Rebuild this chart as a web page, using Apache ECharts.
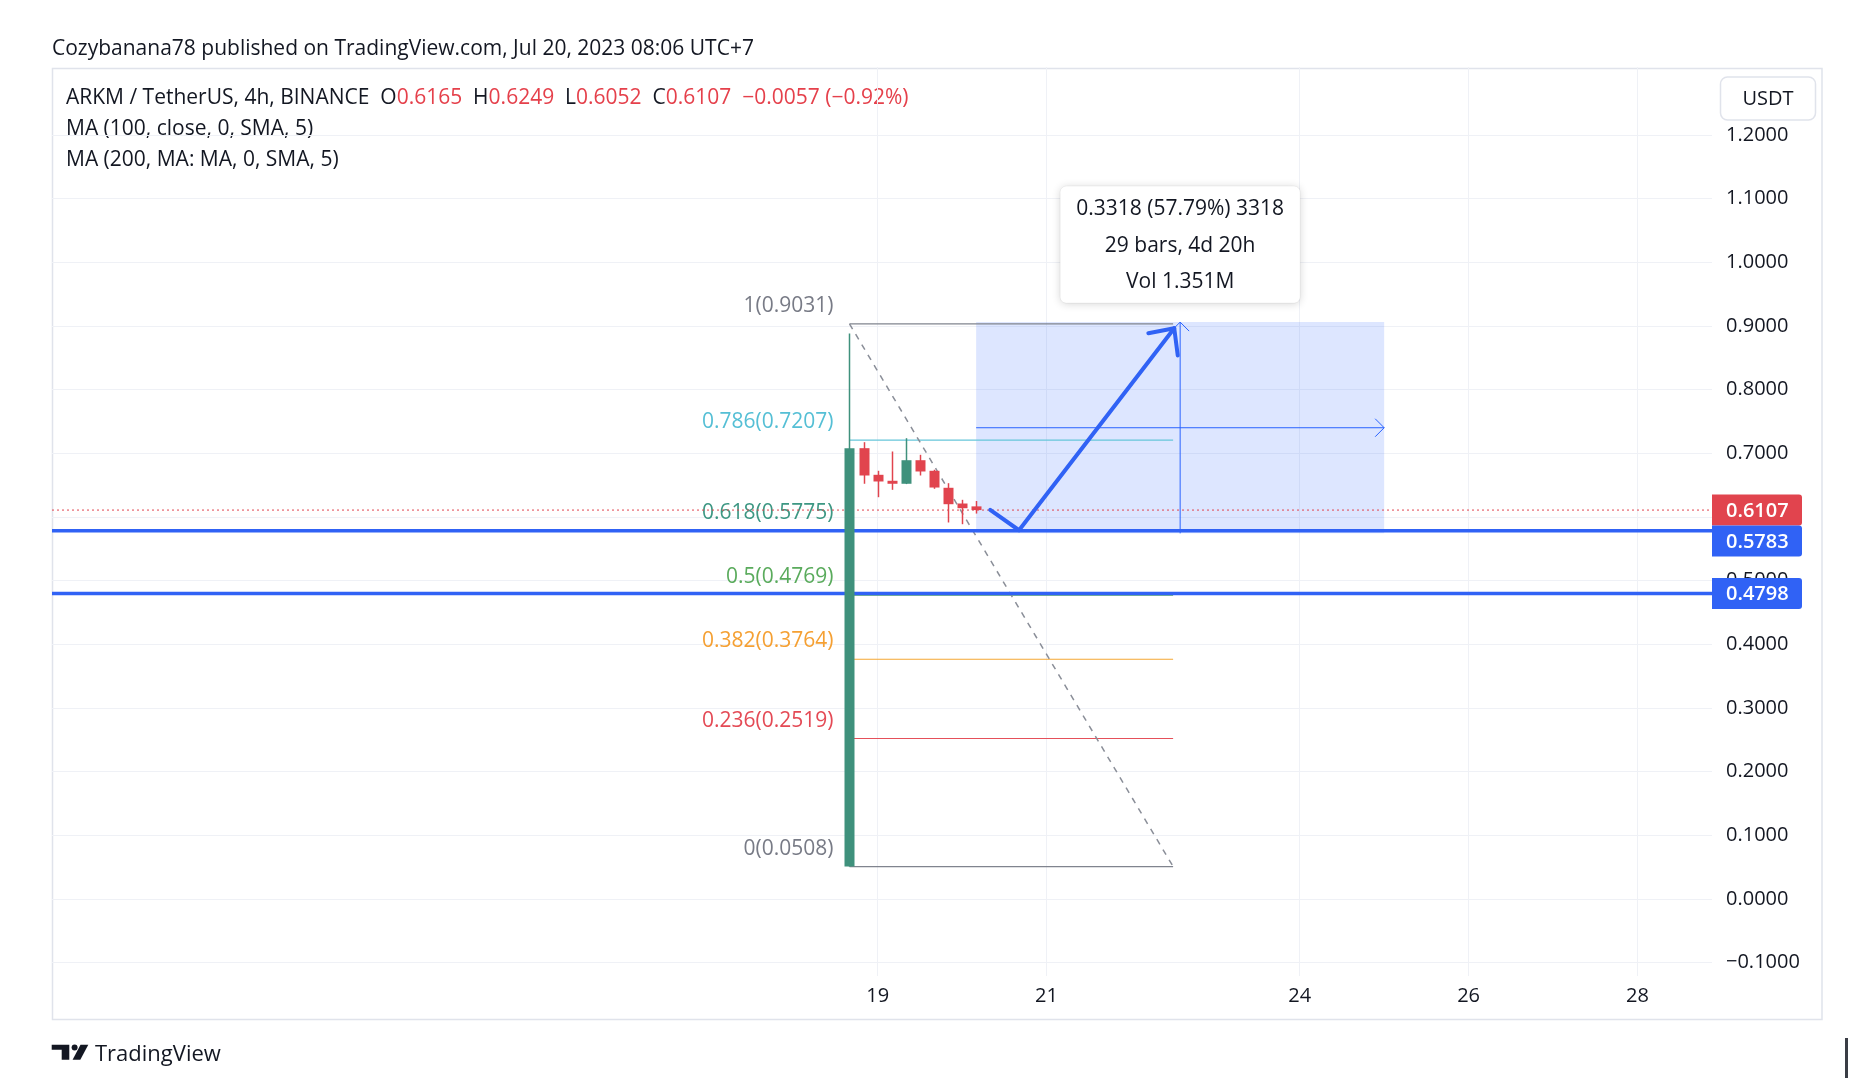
<!DOCTYPE html>
<html><head><meta charset="utf-8">
<script src="https://cdn.jsdelivr.net/npm/echarts@6/dist/echarts.min.js"></script>
<style>html,body{margin:0;padding:0;background:#fff}#main{width:1854px;height:1080px}</style>
</head><body><div id="main"></div>
<script>
// ---------------- data ----------------
const BAR_INDEX = [0, 1, 2, 3, 4, 5, 6, 7, 8, 9];
const OPEN  = [0.0508, 0.7079, 0.6661, 0.6567, 0.6520, 0.6890, 0.6724, 0.6457, 0.6210, 0.6165];
const HIGH  = [0.8880, 0.7173, 0.6724, 0.7027, 0.7236, 0.6975, 0.6740, 0.6529, 0.6268, 0.6249];
const LOW   = [0.0508, 0.6520, 0.6309, 0.6425, 0.6515, 0.6650, 0.6441, 0.5912, 0.5885, 0.6052];
const CLOSE = [0.7079, 0.6650, 0.6556, 0.6520, 0.6890, 0.6713, 0.6461, 0.6199, 0.6136, 0.6107];

const Y_TICKS = [-0.1, 0, 0.1, 0.2, 0.3, 0.4, 0.5, 0.6, 0.7, 0.8, 0.9, 1.0, 1.1, 1.2];
const DAY_TICKS = [2, 14, 32, 44, 56];
const DAY_LABELS = ['19', '21', '24', '26', '28'];

const FIB_RATIOS = ['1', '0.786', '0.618', '0.5', '0.382', '0.236', '0'];
const FIB_PRICES = [0.9031, 0.7207, 0.5775, 0.4769, 0.3764, 0.2519, 0.0508];
const FIB_BARS = [0, 23];

const H_LEVELS = [0.5783, 0.4798];
const LAST_PRICE = 0.6107;

const RANGE_BARS = [9, 38];
const RANGE_PRICES = [0.5741, 0.9059];
const RANGE_TEXT = ['0.3318 (57.79%) 3318', '29 bars, 4d 20h', 'Vol 1.351M'];

const PATH_BARS = [10.0, 12.05, 23.08];
const PATH_PRICES = [0.611, 0.579, 0.8963];
const ARROWHEAD_BARS = [21.24, 23.33];
const ARROWHEAD_PRICES = [0.8885, 0.8534];

const HEADER_TEXT = 'Cozybanana78 published on TradingView.com, Jul 20, 2023 08:06 UTC+7';
const SYMBOL_TEXT = 'ARKM / TetherUS, 4h, BINANCE';
const OHLC_KEYS = ['O', 'H', 'L', 'C'];
const OHLC_VALUES = ['0.6165', '0.6249', '0.6052', '0.6107'];
const CHANGE_TEXT = '\u22120.0057 (\u22120.92%)';
const MA_TEXTS = ['MA (100, close, 0, SMA, 5)', 'MA (200, MA: MA, 0, SMA, 5)'];
const CURRENCY = 'USDT';

// ---------------- style ----------------
const FONT = "'Open Sans', 'Noto Sans', sans-serif";
const TXT = '#131722';
const UP = '#3f917c', DOWN = '#e1444e', BLUE = '#3062f5', RBLUE = '#2962ff';
const FIB_COLORS = ['#787b86', '#55bfd5', '#3d9783', '#5aab5c', '#f5a033', '#e44a55', '#787b86'];
const FIB_LINE_COLORS = ['#80848e', '#66c6da', '#3d9783', '#5aab5c', '#f5a733', '#e5505a', '#80848e'];
const GRID = { left: 52, right: 142, top: 67, bottom: 104 };
const X_MIN = -56.68, X_MAX = 61.30, Y_MIN = -0.12109, Y_MAX = 1.30658;

function fmtPrice(v) { return (v < 0 ? '\u2212' : '') + Math.abs(v).toFixed(4); }

const candleData = BAR_INDEX.map((b, k) => [b, OPEN[k], CLOSE[k], LOW[k], HIGH[k]]);

function renderCandle(params, api) {
  const i = api.value(0), o = api.value(1), c = api.value(2), l = api.value(3), h = api.value(4);
  const pO = api.coord([i, o]), pC = api.coord([i, c]), pL = api.coord([i, l]), pH = api.coord([i, h]);
  const color = c >= o ? UP : DOWN;
  const x = Math.round(pO[0]) + 0.5;
  const top = Math.min(pO[1], pC[1]), bot = Math.max(pO[1], pC[1]);
  return { type: 'group', children: [
    { type: 'line', shape: { x1: x, y1: pH[1], x2: x, y2: pL[1] }, style: { stroke: color, lineWidth: 1.5 } },
    { type: 'rect', shape: { x: x - 5, y: top, width: 10, height: Math.max(1.5, bot - top) }, style: { fill: color } }
  ]};
}

const fibData = FIB_PRICES.map((p, k) => [FIB_BARS[0], p, FIB_BARS[1], k]);
function renderFib(params, api) {
  const b0 = api.value(0), p = api.value(1), b1 = api.value(2), k = api.value(3);
  const a = api.coord([b0, p]), b = api.coord([b1, p]);
  return { type: 'group', children: [
    { type: 'line', shape: { x1: a[0], y1: a[1], x2: b[0], y2: b[1] }, style: { stroke: FIB_LINE_COLORS[k], lineWidth: 1.2 } },
    { type: 'text', x: a[0] - 16, y: a[1] - 18, style: { text: FIB_RATIOS[k] + '(' + p.toFixed(4) + ')', fill: FIB_COLORS[k], fontSize: 21, fontFamily: FONT, align: 'right', verticalAlign: 'middle' } }
  ]};
}

function renderDiag(params, api) {
  const a = api.coord([FIB_BARS[0], FIB_PRICES[0]]), b = api.coord([FIB_BARS[1], FIB_PRICES[FIB_PRICES.length - 1]]);
  return { type: 'line', shape: { x1: a[0], y1: a[1], x2: b[0], y2: b[1] }, style: { stroke: '#8a8e98', lineWidth: 1.5, lineDash: [6, 6] } };
}

function renderHLine(params, api) {
  const p = api.value(1), cs = params.coordSys;
  const y = api.coord([0, p])[1];
  const dotted = api.value(2) === 1;
  return { type: 'line', shape: { x1: cs.x, y1: y, x2: cs.x + cs.width, y2: y },
    style: dotted ? { stroke: DOWN, lineWidth: 1, lineDash: [2, 3] } : { stroke: BLUE, lineWidth: 3.5 } };
}

const BADGE_PRICES = [LAST_PRICE].concat(H_LEVELS);
function renderBadge(params, api) {
  const cs = params.coordSys;
  const H = 31;
  const ys = BADGE_PRICES.map(p => api.coord([0, p])[1]);
  const order = ys.map((y, k) => k).sort((a, b) => ys[a] - ys[b]);
  const tops = [];
  let prevBottom = -1e9;
  order.forEach(k => { let t = ys[k] - H / 2; if (t < prevBottom) t = prevBottom; tops[k] = t; prevBottom = t + H; });
  const k = params.dataIndex;
  const fill = k === 0 ? DOWN : BLUE;
  const x = cs.x + cs.width;
  return { type: 'group', children: [
    { type: 'rect', shape: { x: x, y: tops[k], width: 90, height: H, r: [0, 3, 3, 0] }, style: { fill: fill } },
    { type: 'text', x: x + 14, y: tops[k] + H / 2 + 1, style: { text: fmtPrice(BADGE_PRICES[k]), fill: '#fff', fontSize: 20, fontFamily: FONT, fontWeight: 600, align: 'left', verticalAlign: 'middle' } }
  ]};
}

function renderRange(params, api) {
  const a = api.coord([RANGE_BARS[0], RANGE_PRICES[1]]), b = api.coord([RANGE_BARS[1], RANGE_PRICES[0]]);
  const L = a[0], T = a[1], R = b[0], B = b[1];
  const mx = api.coord([(RANGE_BARS[0] + RANGE_BARS[1]) / 2, 0])[0];
  const my = api.coord([0, (RANGE_PRICES[0] + RANGE_PRICES[1]) / 2])[1];
  const ah = 9;
  const ls = { stroke: RBLUE, lineWidth: 1, fill: null };
  const bw = 240, bh = 117, bx = mx - bw / 2, by = T - 19 - bh;
  const offs = [23, 60, 96];
  const ch = [
    { type: 'rect', shape: { x: L, y: T, width: R - L, height: B - T }, style: { fill: 'rgba(41,98,255,0.16)' } },
    { type: 'line', shape: { x1: L, y1: my, x2: R, y2: my }, style: ls },
    { type: 'polyline', shape: { points: [[R - ah, my - ah], [R, my], [R - ah, my + ah]] }, style: ls },
    { type: 'line', shape: { x1: mx, y1: B, x2: mx, y2: T }, style: ls },
    { type: 'polyline', shape: { points: [[mx - ah, T + ah], [mx, T], [mx + ah, T + ah]] }, style: ls },
    { type: 'rect', shape: { x: bx, y: by, width: bw, height: bh, r: 6 }, style: { fill: '#fff', stroke: 'rgba(0,0,0,0.05)', lineWidth: 1, shadowBlur: 8, shadowColor: 'rgba(0,0,0,0.16)', shadowOffsetY: 1 } }
  ];
  RANGE_TEXT.forEach((t, k) => ch.push({ type: 'text', x: mx, y: by + offs[k], style: { text: t, fill: TXT, fontSize: 21, fontFamily: FONT, align: 'center', verticalAlign: 'middle' } }));
  return { type: 'group', children: ch };
}

function renderPath(params, api) {
  const pts = PATH_BARS.map((b, k) => api.coord([b, PATH_PRICES[k]]));
  const tip = pts[pts.length - 1];
  const h1 = api.coord([ARROWHEAD_BARS[0], ARROWHEAD_PRICES[0]]), h2 = api.coord([ARROWHEAD_BARS[1], ARROWHEAD_PRICES[1]]);
  const st = { stroke: BLUE, lineWidth: 4, fill: null, lineCap: 'round', lineJoin: 'round' };
  return { type: 'group', children: [
    { type: 'polyline', shape: { points: pts }, style: st },
    { type: 'polyline', shape: { points: [h1, tip, h2] }, style: st }
  ]};
}

const chart = echarts.init(document.getElementById('main'), null, { renderer: 'canvas' });

const legendRich = SYMBOL_TEXT + '  ' + OHLC_KEYS.map((k, i) => k + '{r|' + OHLC_VALUES[i] + '}').join('  ') + '  {r|' + CHANGE_TEXT + '}';

chart.setOption({
  animation: false,
  backgroundColor: '#ffffff',
  grid: GRID,
  xAxis: {
    type: 'value', min: X_MIN, max: X_MAX,
    axisLine: { show: false }, axisTick: { show: false, customValues: DAY_TICKS },
    axisLabel: { customValues: DAY_TICKS, formatter: v => DAY_LABELS[DAY_TICKS.indexOf(v)] || '', color: TXT, fontSize: 20, fontFamily: FONT, margin: 10 },
    splitLine: { show: true, lineStyle: { color: '#eff1f6', width: 1 } }
  },
  yAxis: {
    type: 'value', position: 'right', min: Y_MIN, max: Y_MAX,
    axisLine: { show: false }, axisTick: { show: false, customValues: Y_TICKS },
    axisLabel: { customValues: Y_TICKS, formatter: fmtPrice, color: TXT, fontSize: 20, fontFamily: FONT, margin: 14, padding: [2, 0, 0, 0] },
    splitLine: { show: true, lineStyle: { color: '#eff1f6', width: 1 } }
  },
  graphic: [
    { type: 'rect', shape: { x: 52.5, y: 68.5, width: 1769.5, height: 951 }, style: { fill: null, stroke: '#e0e3eb', lineWidth: 1.5 }, z: 0, silent: true },
    { type: 'text', x: 52, y: 49.5, style: { text: HEADER_TEXT, fill: TXT, fontSize: 21, fontFamily: FONT, verticalAlign: 'middle' } },
    { type: 'text', x: 66, y: 98, style: { text: legendRich, fill: TXT, fontSize: 21, fontFamily: FONT, verticalAlign: 'middle', rich: { r: { fill: '#e5404b', fontSize: 21, fontFamily: FONT } } } },
    { type: 'text', x: 66, y: 129.5, style: { text: MA_TEXTS[0], fill: TXT, fontSize: 21, fontFamily: FONT, verticalAlign: 'middle' } },
    { type: 'text', x: 66, y: 160.5, style: { text: MA_TEXTS[1], fill: TXT, fontSize: 21, fontFamily: FONT, verticalAlign: 'middle' } },
    { type: 'rect', shape: { x: 1720.5, y: 77, width: 95, height: 43, r: 7 }, style: { fill: '#fff', stroke: '#e0e3eb', lineWidth: 1.5 }, z: 10 },
    { type: 'text', x: 1768, y: 99, style: { text: CURRENCY, fill: TXT, fontSize: 20, fontFamily: FONT, align: 'center', verticalAlign: 'middle' }, z: 11 },
    // TradingView footer logo
    { type: 'polygon', shape: { points: [[51.7, 1044.7], [69.3, 1044.7], [69.3, 1059.7], [61.7, 1059.7], [61.7, 1049.7], [51.7, 1049.7]] }, style: { fill: TXT } },
    { type: 'circle', shape: { cx: 74.6, cy: 1047.6, r: 3 }, style: { fill: TXT } },
    { type: 'polygon', shape: { points: [[80.5, 1044.7], [88.3, 1044.7], [80.3, 1059.7], [72.6, 1059.7]] }, style: { fill: TXT } },
    { type: 'text', x: 95, y: 1054.5, style: { text: 'TradingView', fill: TXT, fontSize: 22, fontFamily: FONT, verticalAlign: 'middle' } },
    { type: 'rect', shape: { x: 1845, y: 1038, width: 3, height: 40 }, style: { fill: '#3a3d45' } }
  ],
  series: [
    { type: 'custom', name: 'range', renderItem: renderRange, data: [[RANGE_BARS[0], RANGE_PRICES[0]]], clip: false, z: 2 },
    { type: 'custom', name: 'fib', renderItem: renderFib, data: fibData, clip: false, z: 3 },
    { type: 'custom', name: 'diag', renderItem: renderDiag, data: [[FIB_BARS[0], FIB_PRICES[0]]], clip: true, z: 3 },
    { type: 'custom', name: 'lastPrice', renderItem: renderHLine, data: [[0, LAST_PRICE, 1]], clip: true, z: 4 },
    { type: 'custom', name: 'levels', renderItem: renderHLine, data: H_LEVELS.map(p => [0, p, 0]), clip: true, z: 5 },
    { type: 'custom', name: 'path', renderItem: renderPath, data: [[PATH_BARS[0], PATH_PRICES[0]]], clip: false, z: 6 },
    { type: 'custom', name: 'candles', renderItem: renderCandle, data: candleData, clip: true, z: 7 },
    { type: 'custom', name: 'badges', renderItem: renderBadge, data: BADGE_PRICES.map(p => [0, p]), clip: false, z: 8 }
  ]
});
</script></body></html>
